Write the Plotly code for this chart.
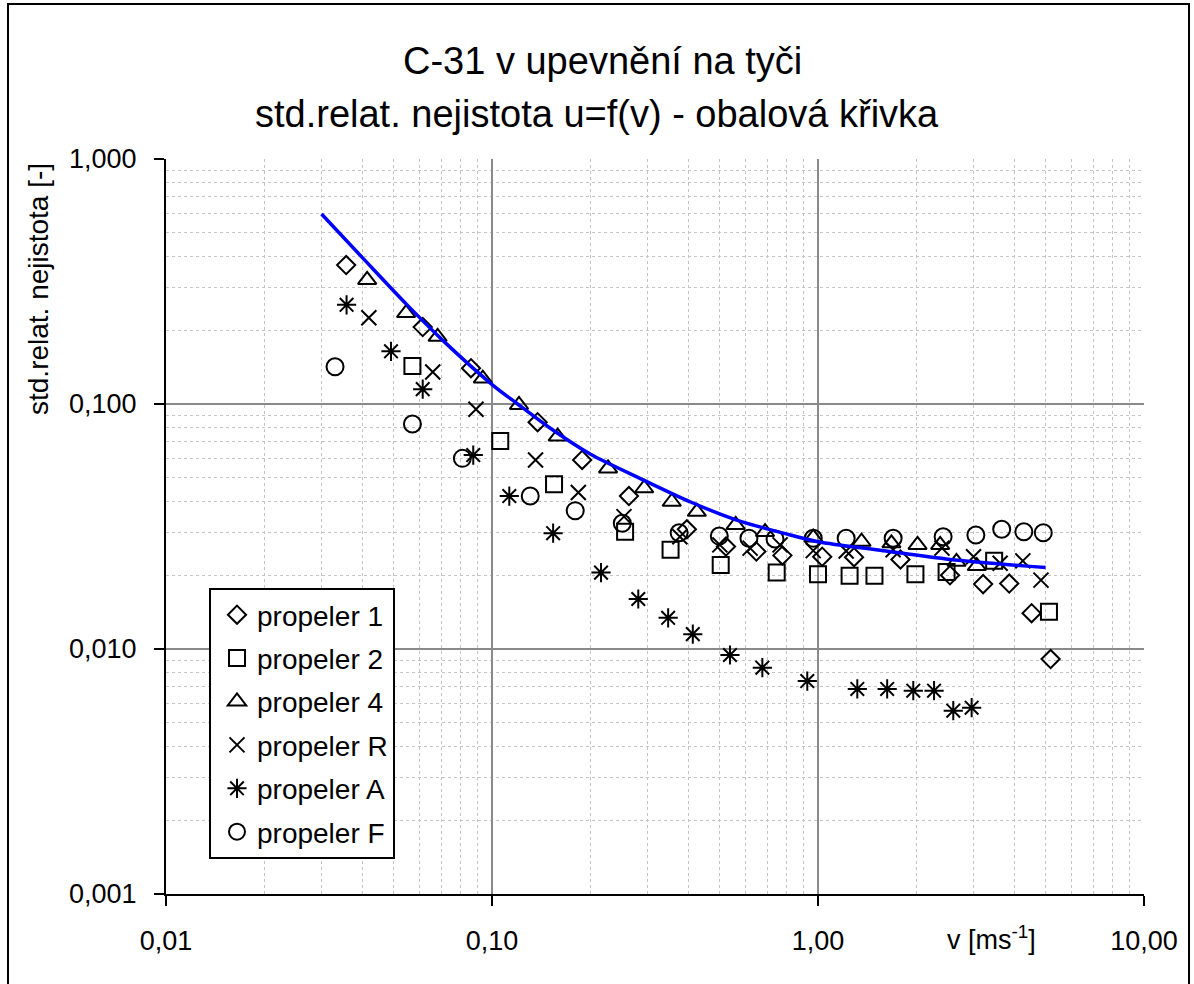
import plotly.graph_objects as go

# ---------------- data ----------------
p1_v = [0.0357, 0.0613, 0.0862, 0.138, 0.189, 0.263, 0.396, 0.522, 0.647, 0.778,
        1.03, 1.29, 1.79, 2.54, 3.21, 3.86, 4.52, 5.17]
p1_u = [0.369, 0.206, 0.140, 0.0843, 0.0591, 0.0421, 0.0308, 0.0262, 0.0250, 0.0241,
        0.0238, 0.0237, 0.0232, 0.0200, 0.0184, 0.0185, 0.0140, 0.0091]

p2_v = [0.0570, 0.106, 0.155, 0.256, 0.353, 0.503, 0.747, 1.00, 1.25, 1.49,
        1.99, 2.48, 3.47, 5.11]
p2_u = [0.143, 0.0706, 0.0470, 0.0301, 0.0254, 0.0220, 0.0205, 0.0202, 0.0199, 0.0199,
        0.0202, 0.0206, 0.0229, 0.0142]

p4_v = [0.0414, 0.0545, 0.0681, 0.0937, 0.121, 0.159, 0.227, 0.293, 0.356, 0.425,
        0.559, 0.688, 0.967, 1.36, 1.68, 2.02, 2.37, 2.66, 3.07]
p4_u = [0.321, 0.235, 0.188, 0.127, 0.0991, 0.0736, 0.0546, 0.0453, 0.0399, 0.0363,
        0.0321, 0.0300, 0.0285, 0.0274, 0.0270, 0.0266, 0.0266, 0.0227, 0.0218]

pR_v = [0.0419, 0.0658, 0.0893, 0.136, 0.184, 0.254, 0.377, 0.500, 0.619, 0.765,
        0.967, 1.22, 1.70, 2.40, 3.00, 3.62, 4.25, 4.83]
pR_u = [0.225, 0.135, 0.0952, 0.0591, 0.0435, 0.0347, 0.0287, 0.0266, 0.0258, 0.0266,
        0.0252, 0.0251, 0.0254, 0.0258, 0.0238, 0.0224, 0.0229, 0.0191]

pA_v = [0.0358, 0.0490, 0.0613, 0.0876, 0.113, 0.154, 0.216, 0.281, 0.347, 0.413,
        0.537, 0.675, 0.927, 1.32, 1.63, 1.96, 2.27, 2.60, 2.96]
pA_u = [0.254, 0.164, 0.115, 0.0619, 0.0421, 0.0297, 0.0205, 0.0160, 0.0134, 0.0115,
        0.00945, 0.00839, 0.00740, 0.00687, 0.00687, 0.00676, 0.00676, 0.00560, 0.00576]

pF_v = [0.0330, 0.0570, 0.0811, 0.131, 0.180, 0.251, 0.375, 0.498, 0.614, 0.738,
        0.967, 1.22, 1.70, 2.42, 3.05, 3.66, 4.28, 4.91]
pF_u = [0.142, 0.0829, 0.0600, 0.0421, 0.0367, 0.0326, 0.0298, 0.0289, 0.0283, 0.0281,
        0.0283, 0.0283, 0.0283, 0.0287, 0.0292, 0.0308, 0.0301, 0.0298]

# envelope curve (obalová křivka)
env_v = [0.0300, 0.0403, 0.0547, 0.0709, 0.1005, 0.119, 0.151, 0.200, 0.291, 0.405,
         0.563, 0.783, 1.00, 1.585, 2.54, 4.99]
env_u = [0.596, 0.392, 0.255, 0.181, 0.1195, 0.1007, 0.0796, 0.0625, 0.0490, 0.0399,
         0.0336, 0.0297, 0.0274, 0.0252, 0.0232, 0.0215]

x_tickvals = [0.01, 0.1, 1, 10]
x_ticktext = ["0,01", "0,10", "1,00", "10,00"]
y_tickvals = [0.001, 0.01, 0.1, 1]
y_ticktext = ["0,001", "0,010", "0,100", "1,000"]

series = [
    ("propeler 1", p1_v, p1_u, "diamond-open", 14),
    ("propeler 2", p2_v, p2_u, "square-open", 16),
    ("propeler 4", p4_v, p4_u, "triangle-up-open", 16),
    ("propeler R", pR_v, pR_u, "x-thin-open", 15),
    ("propeler A", pA_v, pA_u, "asterisk-open", 16),
    ("propeler F", pF_v, pF_u, "circle-open", 17),
]

FONT = "Liberation Sans, Arial, sans-serif"

fig = go.Figure()
for i, (name, xv, yv, sym, sz) in enumerate(series):
    fig.add_trace(go.Scatter(
        x=xv, y=yv, mode="markers", name=name, legendgroup=f"g{i}",
        marker=dict(symbol=sym, size=sz, color="black",
                    line=dict(color="black", width=2)),
    ))

fig.add_trace(go.Scatter(
    x=env_v, y=env_u, mode="lines", showlegend=False,
    line=dict(color="#0000FF", width=3.5, shape="spline", smoothing=0.8),
))

minor_vals = [k * 10.0 ** e for e in range(-3, 1) for k in range(2, 10)]

W, H = 1194, 984
L, R, T, B = 166, 50, 159, 90
pw, ph = W - L - R, H - T - B

def px(xp):
    return (xp - L) / pw

def py(yp):
    return (H - B - yp) / ph

axis_common = dict(
    tickmode="array",
    ticks="outside", ticklen=10, tickwidth=2, tickcolor="black",
    showline=True, linecolor="black", linewidth=2,
    showgrid=True, gridcolor="#8a8a8a", gridwidth=2,
    zeroline=False, ticklabelstandoff=12,
    tickfont=dict(family=FONT, size=27, color="black"),
    minor=dict(tickmode="array", tickvals=minor_vals, showgrid=True,
               gridcolor="#c4c4c4", gridwidth=1, griddash="dot", ticks=""),
)
fig.update_xaxes(type="log", range=[-2, 1], tickvals=x_tickvals, ticktext=x_ticktext, **axis_common)
fig.update_yaxes(type="log", range=[-3, 0], tickvals=y_tickvals, ticktext=y_ticktext, **axis_common)

fig.update_layout(
    width=W, height=H,
    margin=dict(l=L, r=R, t=T, b=B),
    paper_bgcolor="white", plot_bgcolor="white",
    font=dict(family=FONT, color="black"),
    showlegend=True,
    legend=dict(
        x=px(209), y=py(588), xanchor="left", yanchor="top",
        bgcolor="white", bordercolor="black", borderwidth=2,
        font=dict(family=FONT, size=28, color="black"),
        tracegroupgap=4, itemsizing="trace", indentation=6,
        entrywidth=165, entrywidthmode="pixels",
    ),
    annotations=[
        dict(text="C-31 v upevnění na tyči", xref="paper", yref="paper",
             x=px(602), y=py(61), xanchor="center", yanchor="middle",
             showarrow=False, font=dict(family=FONT, size=38, color="black")),
        dict(text="std.relat. nejistota u=f(v) - obalová křivka", xref="paper", yref="paper",
             x=px(597), y=py(114), xanchor="center", yanchor="middle",
             showarrow=False, font=dict(family=FONT, size=38, color="black")),
        dict(text="std.relat. nejistota [-]", xref="paper", yref="paper",
             x=px(38), y=py(289), xanchor="center", yanchor="middle", textangle=-90,
             showarrow=False, font=dict(family=FONT, size=28, color="black")),
        dict(text="v [ms<sup>-1</sup>]", xref="paper", yref="paper",
             x=px(991), y=py(938), xanchor="center", yanchor="middle",
             showarrow=False, font=dict(family=FONT, size=27, color="black")),
    ],
    shapes=[
        dict(type="rect", xref="paper", yref="paper",
             x0=px(8), x1=px(1189), y0=py(995), y1=py(4),
             line=dict(color="black", width=2), fillcolor="rgba(0,0,0,0)", layer="above"),
    ],
)

fig.write_html("out.html")
